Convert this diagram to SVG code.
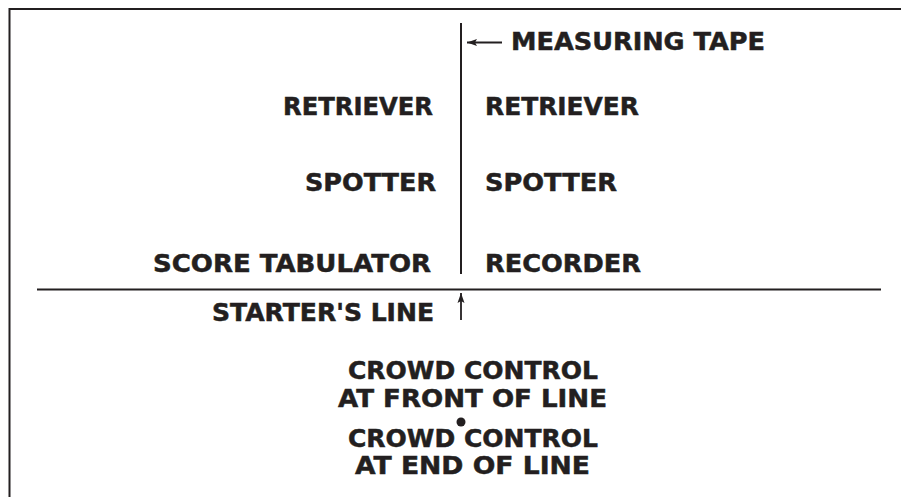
<svg xmlns="http://www.w3.org/2000/svg" width="901" height="497" viewBox="0 0 901 497">
<defs>
<style>
.t{font-family:"DejaVu Sans","Liberation Sans",sans-serif;font-weight:bold;font-size:24px;fill:#231f20;stroke:#231f20;stroke-width:0.5}
.l{stroke:#231f20;stroke-width:2;fill:none}
.a{stroke:#231f20;stroke-width:1.8;fill:none}
</style>
<marker id="ah" viewBox="0 0 10 10" refX="0" refY="5" markerWidth="10" markerHeight="10" markerUnits="userSpaceOnUse" orient="auto">
<path d="M0,5 L10,1.5 L8,5 L10,8.5 Z" fill="#231f20"/>
</marker>
</defs>
<rect width="901" height="497" fill="#fff"/>
<g id="frame">
<path class="l" d="M9.5,497 V9 H901" stroke-width="3"/>
</g>
<g id="connectors">
<line class="l" x1="461" y1="23" x2="461" y2="274"/>
<line class="l" x1="37" y1="289.5" x2="881" y2="289.5"/>
<line class="a" x1="467" y1="42.5" x2="502" y2="42.5" marker-start="url(#ah)"/>
<line class="a" x1="461" y1="293" x2="461" y2="320" marker-start="url(#ah)"/>
</g>
<g id="measuring-tape"><text class="t" x="511" y="50" textLength="254" lengthAdjust="spacingAndGlyphs">MEASURING TAPE</text></g>
<g id="retriever-left"><text class="t" x="283" y="115" textLength="150" lengthAdjust="spacingAndGlyphs">RETRIEVER</text></g>
<g id="retriever-right"><text class="t" x="485" y="115" textLength="154" lengthAdjust="spacingAndGlyphs">RETRIEVER</text></g>
<g id="spotter-left"><text class="t" x="305" y="191" textLength="131" lengthAdjust="spacingAndGlyphs">SPOTTER</text></g>
<g id="spotter-right"><text class="t" x="485" y="191" textLength="132" lengthAdjust="spacingAndGlyphs">SPOTTER</text></g>
<g id="score-tabulator"><text class="t" x="153" y="272" textLength="278" lengthAdjust="spacingAndGlyphs">SCORE TABULATOR</text></g>
<g id="recorder"><text class="t" x="485" y="272" textLength="156" lengthAdjust="spacingAndGlyphs">RECORDER</text></g>
<g id="starters-line"><text class="t" x="212" y="321" textLength="222" lengthAdjust="spacingAndGlyphs">STARTER'S LINE</text></g>
<g id="crowd-front">
<text class="t" x="348" y="379" textLength="250" lengthAdjust="spacingAndGlyphs">CROWD CONTROL</text>
<text class="t" x="338" y="407" textLength="269" lengthAdjust="spacingAndGlyphs">AT FRONT OF LINE</text>
</g>
<g id="dot"><circle cx="461" cy="422" r="4.5" fill="#231f20"/></g>
<g id="crowd-end">
<text class="t" x="348" y="447" textLength="250" lengthAdjust="spacingAndGlyphs">CROWD CONTROL</text>
<text class="t" x="355" y="474" textLength="235" lengthAdjust="spacingAndGlyphs">AT END OF LINE</text>
</g>
</svg>
